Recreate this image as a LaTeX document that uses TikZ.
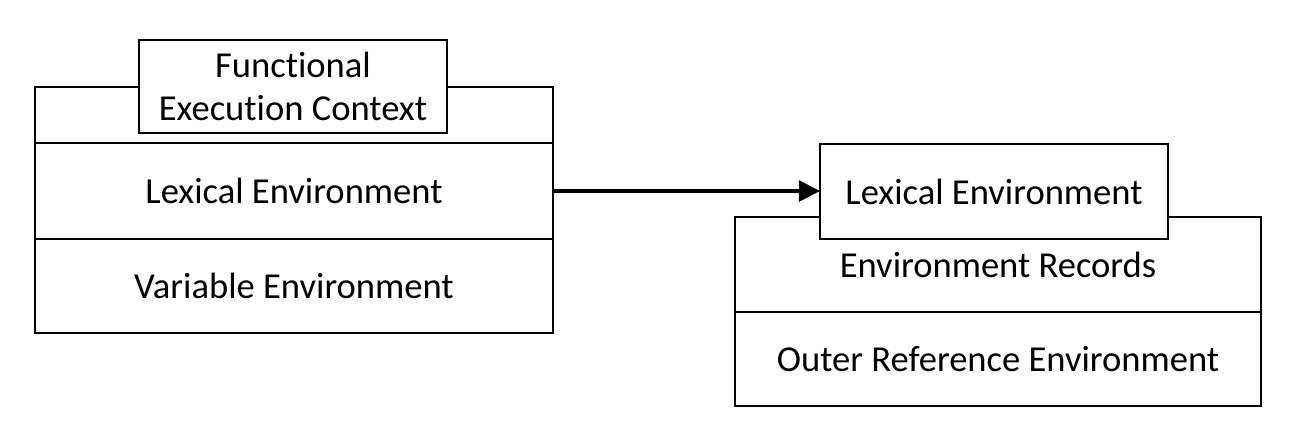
\documentclass[tikz,border=0pt]{standalone}
\usepackage{fontspec}
\setmainfont[Ligatures=NoCommon]{Carlito}
\usetikzlibrary{arrows.meta}

\begin{document}
\begin{tikzpicture}[x=0.01cm,y=-0.01cm,
    row/.style={rectangle,draw,line width=0.6pt,inner sep=0pt,outer sep=0pt,
      font=\fontsize{10.4}{12}\selectfont},
    titlebox/.style={row,fill=white,align=center}]
    \useasboundingbox (0,0) rectangle (1312,432);
    % functional execution context
    \node (fecTop) at (294,115) [row,minimum width=5.18cm,minimum height=0.56cm] {};
    \node (fecLex) at (294,191) [row,minimum width=5.18cm,minimum height=0.96cm] {Lexical Environment};
    \node (fecVar) at (294,286) [row,minimum width=5.18cm,minimum height=0.94cm] {Variable Environment};
    \node (fec) at (293,86.5) [titlebox,minimum width=3.08cm,minimum height=0.93cm] {Functional\\Execution Context};
    % lexical environment
    \node (leRec) at (998,264.5) [row,minimum width=5.26cm,minimum height=0.95cm] {Environment Records};
    \node (leOuter) at (998,359) [row,minimum width=5.26cm,minimum height=0.94cm] {Outer Reference Environment};
    \node (le) at (994,191.5) [titlebox,minimum width=3.48cm,minimum height=0.95cm] {Lexical Environment};
    \draw[-{Triangle[length=6pt,width=6pt]},line width=0.9pt] (fecLex.east) -- (fecLex.east -| le.west);
  \end{tikzpicture}
\end{document}
